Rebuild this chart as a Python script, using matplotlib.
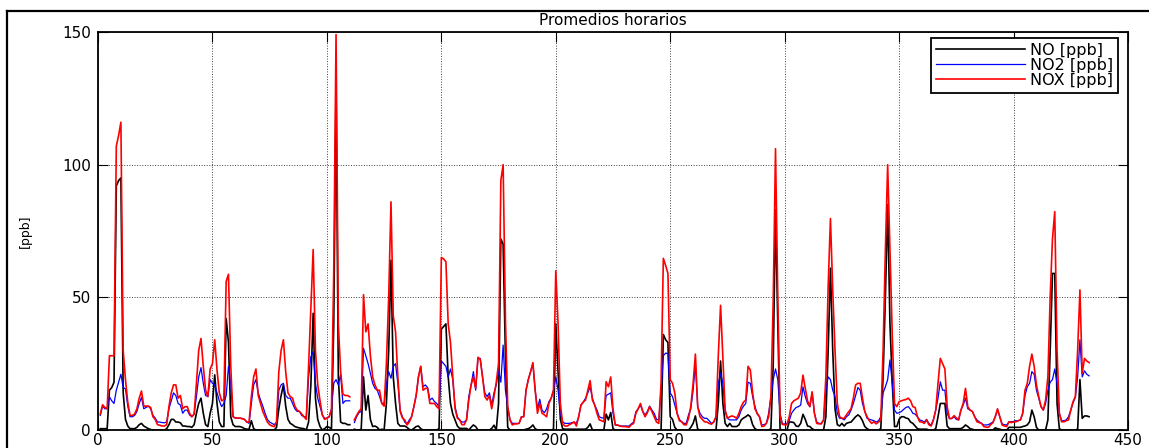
#!/usr/bin/env python
import numpy as np
import matplotlib
matplotlib.use('Agg')
import matplotlib.pyplot as plt
from matplotlib.lines import Line2D

nan = np.nan

# promedios horarios [ppb], hora 1..433 (10 valores por fila)
NO = [0.5, 0.5, 0.5, 0.5, 15, 16, 18, 92, 94, 95,
      14, 4, 1.5, 0.5, 0.5, 0.5, 1, 2, 2.5, 1.5,
      1, 0.5, 0.2, 0, 0, 0, 0, 0, 0, 0.5,
      2, 4, 4, 3, 3, 2.7, 1.5, 1.5, 1.3, 1.3,
      1, 2, 6.3, 10, 12, 6.3, 2, 1.3, 6.3, 10,
      20.8, 10, 3, 1.3, 1.3, 42, 33, 5, 2, 1.3,
      1.3, 1.3, 1, 0.5, 0.3, 0.3, 3.5, 0.5, 0, 0,
      0, 0, 0, 0, 0, 0, 0, 1, 8, 13,
      17, 9, 4, 2.5, 2, 1.3, 1, 0.8, 0.6, 0.5,
      0, 3, 17, 44, 12, 4, 1.3, 0, 0.5, 1.3,
      1, 0.5, 40, 131, 20, 3, 2.5, 2.5, 2, 2,
      nan, 0.3, 0, 0, 0.3, 20, 7.5, 13, 4, 1.3,
      1.5, 1, 0, 0.3, 0, 10, 30, 64, 20, 10,
      2.5, 1.5, 1.5, 1.5, 1, 0.2, 0, 0.6, 1.3, 1.5,
      0.5, 0, 0, 0, 0, 0, 0, 0, 0.5, 38,
      39, 40, 20, 10, 6, 3.8, 1.5, 0.6, 0.6, 0.6,
      0.6, 0, 1, 1.9, 1.3, 0, 0, 0, 0, 0,
      0, 0.6, 1.8, 0, 10, 72, 70, 28, 1, 0,
      0, 0, 0, 0, 0, 0, 0.3, 0.5, 1, 1.9,
      0.5, 0, 0, 0, 0, 0, 0, 0, 0.3, 40,
      22, 4, 0.5, 0.3, 0.3, 0.3, 0.3, 0.3, 0.3, 0.3,
      0.3, 0.3, 0.3, 1, 2.3, 0, 0, 0, 0, 0,
      0, 6, 3.8, 6.6, 0.5, 0, 0, 0, 0, 0,
      0, 0, 0, 0, 0, 0, 0, 0, 0, 0,
      0, 0, 0, 0, 0, 0, 36, 34, 33, 5,
      4, 1, 0, 0, 0, 0, 0, 0, 1, 2.5,
      5.3, 0.3, 0, 0, 0, 0, 0, 0, 0, 0,
      10, 26, 10, 2.5, 1.3, 2.5, 1.3, 1.3, 1.3, 1.9,
      3.8, 4.5, 5, 5.7, 5, 2, 0.5, 0, 0, 0,
      0, 0, 0, 0.5, 25, 83, 40, 0.3, 0, 0,
      0, 3, 3, 2.8, 1.5, 1.3, 2.5, 5.9, 4, 1.5,
      1.3, 0.5, 0, 0, 0, 0, 0, 5, 30, 61,
      30, 8, 2, 1.5, 2.5, 1.5, 2.5, 2.8, 3, 4,
      5, 5.7, 5, 3.5, 1.3, 0.5, 0, 0, 0, 0,
      0, 0.5, 20, 50, 85, 40, 18, 1.3, 1.3, 4,
      5, 5, 4.5, 4.3, 3, 2.5, 1.5, 0.5, 0.3, 0.3,
      0.3, 0.3, 0, 0, 0, 0.5, 5, 10, 10, 10,
      1.5, 0.5, 0.5, 0.5, 0.5, 0.5, 0.5, 1, 1.9, 1.3,
      0.5, 0.3, 0, 0, 0, 0, 0, 0, 0, 0,
      0, 0.8, 0.5, 0.3, 0, 0, 0, 1, 1, 1,
      1, 1, 1, 1.3, 1.5, 1.9, 3.1, 7.5, 5, 1,
      0, 0, 0, 0, 3.8, 30, 59, 59, 10, 0.5,
      0, 0, 0, 0, 0, 0, 0, 0.3, 19, 4.4,
      5.3, 5.3, 5]

NO2 = [5.5, 9, 8, 8, 12.5, 11, 10, 15, 18, 21,
       16, 15.5, 9, 5, 5, 5.5, 7, 10, 12.3, 8,
       8.5, 9, 8, 5.5, 4.5, 3, 3, 2.8, 2.7, 3,
       8, 11, 14, 13, 10, 9.4, 6.3, 7.5, 7.5, 5.7,
       5, 6, 12.6, 20, 23.5, 17.6, 13, 12.6, 19, 17.6,
       17, 14, 11, 8.8, 10, 13, 24, 17.6, 5, 4.5,
       4.4, 4.4, 4.4, 4, 3, 2.5, 10, 17, 19, 14,
       11.3, 9, 6.3, 4, 3, 2.5, 2, 3, 15, 17,
       17.6, 13, 12, 12, 10, 8, 7, 7, 5.5, 5,
       5, 20, 27.6, 29.5, 17.6, 12, 8.8, 5.7, 4.4, 4.5,
       5, 8, 17.6, 19, 17, 21, 10, 11, 11, 11,
       nan, 2.8, 5, 6.5, 7, 30.8, 28, 25, 21.4, 17.6,
       15.7, 15, 12.6, 10, 10, 17.6, 22, 19.5, 24, 25,
       17.6, 7.5, 5, 3, 2.3, 3.8, 5, 8.8, 13, 20,
       24, 16.3, 17, 16, 11.3, 12, 10.7, 10, 8.8, 26,
       25, 24, 20, 23, 19, 8.8, 5, 3.8, 3, 3,
       3.8, 12.6, 17, 22, 15, 27, 27, 20, 14, 12.6,
       14, 9.4, 14, 17, 22.6, 18, 32, 15, 8.8, 3.8,
       2.5, 2.5, 2.5, 2.5, 5, 5, 15, 19, 22, 25,
       15, 8, 11.6, 7.5, 6.5, 8, 10.7, 12, 15, 20,
       15, 6.3, 3.1, 2.5, 2.5, 2.5, 2.8, 2.8, 2.5, 5,
       9.4, 10.5, 12, 14, 16.3, 12, 9.4, 7.5, 5, 4.6,
       4.4, 13, 13.5, 14, 6.3, 1.9, 1.8, 1.5, 1.5, 1.5,
       1.5, 1.5, 2.3, 3, 6.9, 8, 9.4, 7, 5.7, 7,
       9, 7.5, 6.3, 4, 3.8, 15, 28, 29, 28.8, 14,
       12.6, 9.4, 6.3, 4, 3.1, 2.5, 2.5, 5.7, 8, 15,
       25, 8.8, 6.3, 5, 4.4, 4.4, 3.5, 2.5, 3, 5,
       17.6, 21.4, 17.6, 6.9, 4.4, 3.8, 3.8, 3.8, 3.8, 5,
       7.5, 9, 10, 18, 17.6, 12.6, 9, 6, 5, 1.9,
       2, 2.5, 6.3, 12.6, 19, 23, 19, 6.3, 2.3, 2.3,
       2.3, 3.5, 6.3, 7.5, 8.5, 8.8, 9.4, 16.3, 12.6, 10,
       8.8, 14, 6.3, 3, 2.5, 2.5, 3.8, 15, 20, 19,
       15, 12.6, 6.3, 4.4, 4.4, 3.8, 5, 5.7, 7.5, 10,
       13, 16, 15, 10, 7, 4.4, 4, 3.8, 3.5, 3,
       3.5, 5, 14, 16.3, 19, 26.4, 17.6, 7.5, 6.3, 6.5,
       7, 7.8, 8.5, 8.8, 7.8, 6.3, 6, 5, 3.8, 3.5,
       3, 4, 2.5, 1.8, 4, 7.5, 12, 18.2, 15, 15,
       6.3, 4.3, 4.3, 5, 4, 3.8, 7.5, 9.4, 12, 8,
       7.5, 7, 5, 3.8, 3.1, 2.5, 1.9, 1.9, 2, 2.5,
       3, 5, 7.5, 5, 2.3, 2, 1.9, 3.1, 3.1, 3.2,
       3.5, 3.5, 3.8, 6.3, 13, 16.3, 17.6, 22, 21, 15,
       12, 8.8, 7.5, 10, 15, 18, 19, 23, 17.6, 6.3,
       3.5, 3.5, 3.8, 5, 7.5, 10.3, 12.3, 20, 34, 20,
       22.3, 21, 20.4]

NOX = [6, 9.5, 8.5, 8, 28, 28, 28, 107, 111, 116,
       30, 19, 10.5, 5.5, 5.5, 6, 8, 12, 14.7, 9,
       9, 9, 8.5, 5, 4, 2, 1.8, 1.5, 1.5, 2,
       8.8, 14, 17, 17, 12, 13, 8, 8.8, 8.8, 6.3,
       5, 6, 17.6, 30, 34.5, 24, 15, 12.6, 23, 25,
       34, 22.6, 14, 11, 11.5, 56, 58.7, 24, 5, 4.5,
       4.5, 4.5, 4.2, 4, 3, 3, 12.6, 20, 23, 13,
       10, 7, 5, 3, 2, 1.5, 1.3, 3, 22, 30,
       34, 22, 14, 12.6, 12, 9, 7.5, 7, 6, 5,
       4, 24, 46, 68, 30, 17, 11, 5.7, 4, 4.4,
       5, 7.5, 60, 149, 40, 22, 13.5, 13, 13, 12.5,
       nan, 3.8, 5.5, 7, 8, 51, 37, 40, 28, 20,
       17, 15, 15, 10, 9, 25, 50, 86, 43, 37,
       20, 7, 4.5, 3.8, 1.9, 3, 5, 8.8, 13, 20,
       24, 15, 15.7, 15.7, 10, 10, 10, 8.8, 8, 65,
       64.5, 63.4, 40, 33, 20, 8, 4.5, 3.8, 2, 2,
       3.8, 11.3, 17, 20, 15.7, 27.4, 26.6, 20, 12.6, 11.3,
       13, 8, 12.6, 18, 25, 94, 100, 42, 8.8, 3.8,
       1.9, 2.3, 2.3, 2.5, 5, 5, 15, 19, 22, 25.4,
       15, 6.3, 10, 6.3, 5.7, 5, 10, 12, 15, 60,
       40, 10, 2.3, 1.5, 1.5, 2, 2.5, 3.1, 1.5, 5,
       9.4, 10.5, 11.3, 15, 18.6, 11.3, 9.4, 6.3, 3.8, 3.5,
       3.1, 18.2, 16.3, 20, 8, 1.9, 1.9, 1.5, 1.3, 1.3,
       1.2, 1, 2, 2.5, 6.3, 8, 10, 7, 5, 6.5,
       8.8, 7, 5, 3, 2.5, 17.6, 64.7, 62, 59, 19,
       17.6, 14, 6.3, 3.5, 3.1, 2, 1.9, 4.4, 9, 17.6,
       28.6, 8.8, 5, 4, 3.1, 3, 2.5, 2.2, 3, 5,
       28, 47, 27.6, 7.5, 4.4, 5, 5.3, 5, 4.4, 6.3,
       8.8, 10.5, 11.3, 24, 22.6, 14, 8, 6.3, 5, 1.3,
       1.5, 2.5, 5, 12.6, 49, 106, 50, 5, 2.1, 2,
       2, 5, 10, 11, 11.5, 12, 14, 20.7, 15.7, 11,
       8.8, 14.4, 6.3, 2.5, 2.3, 2.3, 3.8, 20, 54, 79.7,
       52.7, 30, 10, 5, 4.4, 4.4, 5.7, 6.9, 8, 12,
       17, 17.6, 17.6, 12, 7, 5, 3.5, 2.5, 3.1, 2.3,
       3, 3.8, 30, 67.8, 100, 67.8, 36, 10, 8.8, 10.7,
       11, 11.3, 11.5, 12, 11, 8.8, 8.5, 5, 3.1, 3,
       2.5, 3.8, 2, 1.5, 3.8, 7.5, 17.6, 27, 25, 23,
       8.8, 4.3, 4.4, 5.4, 4.5, 3.8, 7.5, 10, 15.7, 8.8,
       7.5, 7, 5, 3.1, 2.8, 2.5, 1.3, 1.1, 1, 2,
       2.8, 5, 8, 5, 1.9, 1.5, 1.3, 3.1, 2.8, 3,
       3.1, 3.5, 3.8, 6.3, 15, 17.6, 24, 28.6, 24, 17,
       12.6, 8.8, 7.5, 11.3, 20, 50, 72, 82.3, 30, 6.3,
       3.1, 3.1, 3.5, 3.8, 7.5, 10.7, 12.6, 30, 52.8, 21.4,
       27, 26, 25.4]

x_ticks = [0, 50, 100, 150, 200, 250, 300, 350, 400, 450]
y_ticks = [0, 50, 100, 150]


def main():
    fig = plt.figure(figsize=(11.49, 4.48), dpi=100)
    ax = fig.add_axes([98/1149, 18/448, 1030/1149, 398/448])

    # marco exterior (estilo MATLAB)
    fig.add_artist(Line2D([7/1149, 7/1149], [-0.1, 1 - 11/448], transform=fig.transFigure,
                          color='black', lw=1.6))
    fig.add_artist(Line2D([7/1149, 1.1], [1 - 11/448, 1 - 11/448], transform=fig.transFigure,
                          color='black', lw=1.6))

    h_no = np.arange(1, len(NO) + 1)
    h_no2 = np.arange(1, len(NO2) + 1)
    h_nox = np.arange(1, len(NOX) + 1)

    ax.plot(h_no, NO, color='black', lw=1.2, label='NO [ppb]')
    ax.plot(h_no2, NO2, color='blue', lw=0.9, label='NO2 [ppb]')
    ax.plot(h_nox, NOX, color='red', lw=1.2, label='NOX [ppb]')

    ax.set_xlim(0, 450)
    ax.set_ylim(0, 150)
    ax.set_xticks(x_ticks)
    ax.set_yticks(y_ticks)
    ax.grid(True, color='0.25', linestyle=':', linewidth=0.7)
    ax.tick_params(direction='in', top=True, right=True, length=7, width=0.8,
                   labelsize=11)
    ax.tick_params(axis='x', pad=2)
    ax.tick_params(axis='y', pad=5)
    for s in ax.spines.values():
        s.set_linewidth(1.3)

    ax.set_title('Promedios horarios', fontsize=11, pad=5)
    ax.set_ylabel('[ppb]', fontsize=9)
    ax.yaxis.set_label_coords(-0.064, 0.5)

    leg = ax.legend(loc='upper right', bbox_to_anchor=(0.990, 0.985), borderaxespad=0,
                    fontsize=11.5, handlelength=5.6, handletextpad=0.3, labelspacing=0.0,
                    borderpad=0.3, fancybox=False, framealpha=1)
    leg.get_frame().set_edgecolor('black')
    leg.get_frame().set_linewidth(1.3)

    fig.savefig('out.png', dpi=100)


if __name__ == "__main__":
    main()
